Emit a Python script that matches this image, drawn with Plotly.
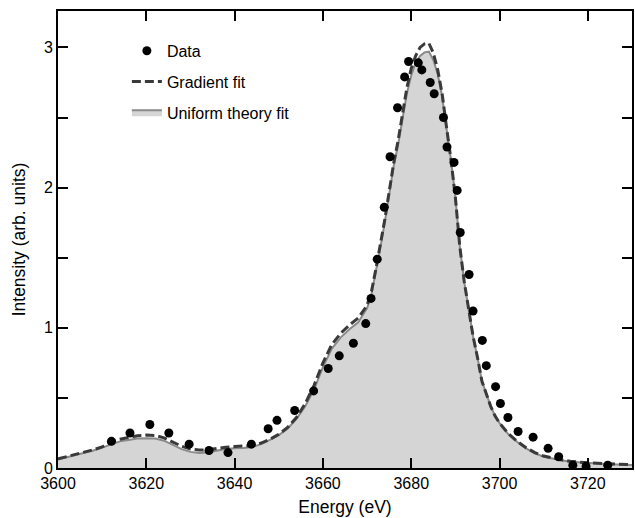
"""XANES-style spectrum: data points with gradient and uniform theory fits."""
import plotly.graph_objects as go

# measured points
data_energy = [
    3612.1, 3616.3, 3620.8, 3625.1, 3629.7, 3634.2, 3638.5, 3643.8, 3647.6, 3649.6,
    3653.6, 3657.9, 3661.2, 3663.7, 3666.9, 3669.7, 3670.9, 3672.3, 3673.9, 3675.2,
    3676.9, 3678.5, 3679.4, 3681.6, 3682.4, 3684.3, 3685.2, 3687.3, 3688.1, 3689.7,
    3690.4, 3691.1, 3693.1, 3694.0, 3696.1, 3697.0, 3699.1, 3700.2, 3701.9, 3704.2,
    3707.6, 3711.0, 3713.4, 3716.6, 3719.6, 3724.5,
]
data_intensity = [
    0.19, 0.25, 0.31, 0.25, 0.17, 0.125, 0.11, 0.17, 0.28, 0.34,
    0.41, 0.55, 0.71, 0.80, 0.89, 1.03, 1.21, 1.49, 1.86, 2.22,
    2.57, 2.79, 2.90, 2.89, 2.84, 2.75, 2.67, 2.50, 2.29, 2.18,
    1.98, 1.68, 1.38, 1.12, 0.91, 0.73, 0.58, 0.46, 0.36, 0.26,
    0.22, 0.14, 0.08, 0.02, 0.012, 0.02,
]

# fitted curves on a shared energy grid
fit_energy = [
    3600, 3602, 3604, 3606, 3608, 3610, 3612, 3614, 3616, 3618,
    3620, 3622, 3624, 3626, 3628, 3630, 3632, 3634, 3636, 3638,
    3640, 3642, 3644, 3646, 3648, 3650, 3652, 3654, 3656, 3658,
    3660, 3662, 3664, 3666, 3668, 3670, 3671, 3672, 3673, 3674,
    3675, 3676, 3677, 3678, 3679, 3680, 3681, 3682, 3683, 3684,
    3685, 3686, 3687, 3688, 3689, 3690, 3691, 3692, 3693, 3694,
    3695, 3696, 3697, 3698, 3699, 3700, 3702, 3704, 3706, 3708,
    3710, 3712, 3714, 3716, 3718, 3720, 3724, 3728, 3730,
]
uniform_fit = [
    0.06, 0.075, 0.09, 0.105, 0.125, 0.145, 0.17, 0.19, 0.20, 0.21,
    0.213, 0.21, 0.195, 0.165, 0.135, 0.115, 0.107, 0.112, 0.125, 0.135,
    0.14, 0.142, 0.15, 0.17, 0.20, 0.235, 0.28, 0.35, 0.44, 0.56,
    0.72, 0.85, 0.93, 0.99, 1.04, 1.14, 1.24, 1.40, 1.57, 1.75,
    1.95, 2.15, 2.30, 2.50, 2.67, 2.80, 2.89, 2.94, 2.965, 2.97,
    2.91, 2.81, 2.65, 2.42, 2.20, 1.93, 1.58, 1.33, 1.12, 0.94,
    0.79, 0.62, 0.53, 0.44, 0.37, 0.32, 0.24, 0.185, 0.14, 0.105,
    0.08, 0.065, 0.055, 0.045, 0.04, 0.035, 0.028, 0.024, 0.022,
]
gradient_fit = [
    0.065, 0.08, 0.095, 0.11, 0.13, 0.15, 0.185, 0.205, 0.22, 0.23,
    0.235, 0.232, 0.215, 0.185, 0.155, 0.135, 0.128, 0.13, 0.14, 0.148,
    0.153, 0.155, 0.16, 0.178, 0.205, 0.24, 0.29, 0.36, 0.46, 0.59,
    0.75, 0.88, 0.96, 1.02, 1.07, 1.16, 1.26, 1.42, 1.59, 1.77,
    1.97, 2.17, 2.33, 2.53, 2.71, 2.85, 2.94, 3.0, 3.025, 3.03,
    2.96, 2.84, 2.67, 2.43, 2.20, 1.93, 1.58, 1.33, 1.12, 0.94,
    0.79, 0.62, 0.53, 0.44, 0.37, 0.32, 0.245, 0.19, 0.145, 0.11,
    0.085, 0.07, 0.058, 0.048, 0.042, 0.037, 0.03, 0.026, 0.024,
]

x_ticks = [3600, 3620, 3640, 3660, 3680, 3700, 3720]
y_ticks = [0, 0.5, 1, 1.5, 2, 2.5, 3]
y_tick_labels = ["0", "", "1", "", "2", "", "3"]

FONT = "Liberation Sans, Arial, Helvetica, sans-serif"

fig = go.Figure()

fig.add_trace(
    go.Scatter(
        x=fit_energy,
        y=uniform_fit,
        name="Uniform theory fit",
        mode="lines",
        fill="tozeroy",
        fillcolor="#d5d5d5",
        line=dict(color="#8a8a8a", width=2),
        legendgroup="c",
        legendrank=3,
    )
)
fig.add_trace(
    go.Scatter(
        x=fit_energy,
        y=gradient_fit,
        name="Gradient fit",
        mode="lines",
        line=dict(color="#3a3a3a", width=3, dash="9px,4px"),
        legendgroup="b",
        legendrank=2,
    )
)
fig.add_trace(
    go.Scatter(
        x=data_energy,
        y=data_intensity,
        name="Data",
        mode="markers",
        marker=dict(color="black", size=9),
        legendgroup="a",
        legendrank=1,
    )
)

axis_common = dict(
    showline=True,
    linecolor="black",
    linewidth=2,
    mirror="ticks",
    ticks="inside",
    ticklen=10,
    tickwidth=2,
    tickcolor="black",
    showgrid=False,
    zeroline=False,
    automargin=False,
    tickfont=dict(family=FONT, size=16, color="black"),
)

fig.update_xaxes(
    range=[3600, 3730],
    tickmode="array",
    tickvals=x_ticks,
    title=dict(text="Energy (eV)", font=dict(family=FONT, size=17.5, color="black"), standoff=10),
    **axis_common,
)
fig.update_yaxes(
    range=[0, 3.26],
    tickmode="array",
    tickvals=y_ticks,
    ticktext=y_tick_labels,
    title=dict(text="Intensity (arb. units)", font=dict(family=FONT, size=17.5, color="black"), standoff=14),
    **axis_common,
)

fig.update_layout(
    width=635,
    height=518,
    margin=dict(l=58, r=3, t=11, b=50),
    paper_bgcolor="white",
    plot_bgcolor="white",
    font=dict(family=FONT, size=16, color="black"),
    legend=dict(
        x=0.12,
        y=0.95,
        xanchor="left",
        yanchor="top",
        bgcolor="rgba(0,0,0,0)",
        tracegroupgap=7,
        font=dict(family=FONT, size=16, color="black"),
    ),
)

# drop the browser's default body margin so the figure sits at the window corner
fig.write_html(
    "out.html",
    config={"displayModeBar": False},
    post_script="document.body.style.margin='0';",
)
